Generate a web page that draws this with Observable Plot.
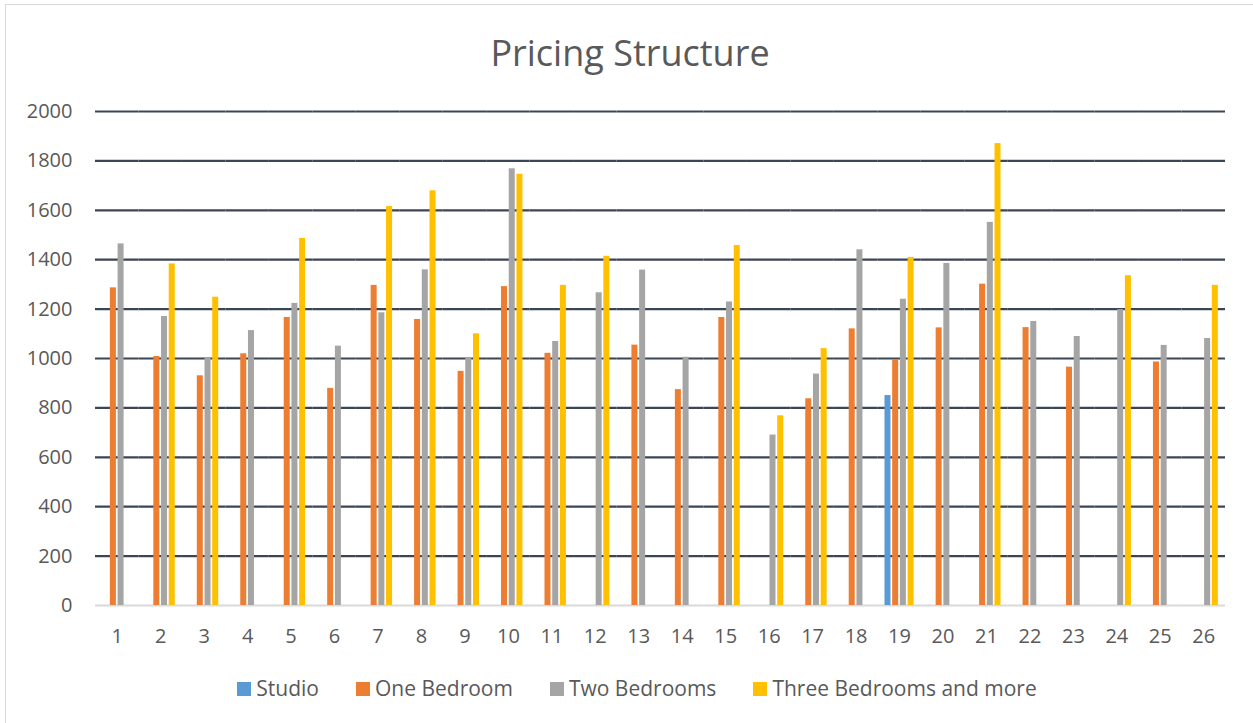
<!DOCTYPE html>
<html>
<head>
<meta charset="utf-8">
<script src="https://cdn.jsdelivr.net/npm/d3@7"></script>
<script src="https://cdn.jsdelivr.net/npm/@observablehq/plot@0.6"></script>
<style>
  html, body { margin: 0; background: #ffffff; font-family: "Open Sans", sans-serif; overflow: hidden; }
  #frame { position: absolute; left: 5px; top: 4px; width: 1260px; height: 730px; border: 1.5px solid #D9D9D9; box-sizing: border-box; }
  #title { position: absolute; left: 0; width: 1260px; top: 35px; text-align: center; font-size: 36px; line-height: 36px; color: #595959; font-weight: 400; }
  #chart { position: absolute; left: 0; top: 90px; }
  #legend { position: absolute; left: 0; width: 1274px; top: 678px; display: flex; justify-content: center; align-items: center; gap: 37px; font-size: 21px; line-height: 21px; color: #595959; }
  .item { display: flex; align-items: center; gap: 5px; }
  .sw { width: 14px; height: 14px; display: inline-block; }
</style>
</head>
<body>
<div id="frame"></div>
<div id="title">Pricing Structure</div>
<div id="chart"></div>
<div id="legend"></div>
<script>
const categories = ["1","2","3","4","5","6","7","8","9","10","11","12","13","14","15","16","17","18","19","20","21","22","23","24","25","26"];
const seriesNames = ["Studio", "One Bedroom", "Two Bedrooms", "Three Bedrooms and more"];
const seriesColors = ["#5B9BD5", "#ED7D31", "#A5A5A5", "#FFC000"];
const studio = [null,null,null,null,null,null,null,null,null,null,null,null,null,null,null,null,null,null,850,null,null,null,null,null,null,null];
const oneBedroom = [1286,1008,930,1019,1166,879,1296,1158,948,1291,1021,null,1054,874,1166,null,837,1120,996,1124,1301,1125,965,null,986,null];
const twoBedrooms = [1464,1170,1000,1113,1223,1050,1185,1359,1001,1768,1069,1266,1358,1005,1229,690,937,1440,1240,1385,1551,1150,1089,1198,1053,1081];
const threeBedrooms = [null,1383,1248,null,1486,null,1615,1679,1100,1746,1296,1414,null,null,1457,768,1040,null,1409,null,1870,null,null,1335,null,1296];
const yTicks = [0,200,400,600,800,1000,1200,1400,1600,1800,2000];

const seriesValues = [studio, oneBedroom, twoBedrooms, threeBedrooms];
const rows = [];
categories.forEach((c, i) => {
  seriesNames.forEach((s, j) => {
    const v = seriesValues[j][i];
    if (v != null) rows.push({cat: c, series: s, value: v});
  });
});

const chart = Plot.plot({
  width: 1253,
  height: 570,
  marginLeft: 95,
  marginRight: 28,
  marginTop: 21,
  marginBottom: 55,
  style: {fontFamily: "'Open Sans', sans-serif", fontSize: "20px", color: "#595959", background: "transparent", overflow: "visible"},
  facet: {data: rows, x: "cat"},
  fx: {domain: categories, padding: 0, round: false, axis: "bottom", tickSize: 0, tickPadding: 23, label: null},
  x: {domain: seriesNames, paddingInner: 0.22, paddingOuter: 0.93, round: false, axis: null},
  y: {domain: [0, 2000], ticks: 10, tickSize: 0, tickPadding: 23, label: null, tickFormat: d => String(d)},
  color: {domain: seriesNames, range: seriesColors},
  marks: [
    Plot.ruleY(yTicks.filter(d => d > 0), {stroke: "#3A4556", strokeWidth: 2.2}),
    Plot.ruleY([0], {stroke: "#D9D9D9", strokeWidth: 2}),
    Plot.barY(rows, {x: "series", y: "value", fill: "series"})
  ]
});
document.getElementById("chart").appendChild(chart);

const legend = document.getElementById("legend");
seriesNames.forEach((s, j) => {
  const item = document.createElement("div");
  item.className = "item";
  const sw = document.createElement("span");
  sw.className = "sw";
  sw.style.background = seriesColors[j];
  const t = document.createElement("span");
  t.textContent = s;
  item.appendChild(sw);
  item.appendChild(t);
  legend.appendChild(item);
});
</script>
</body>
</html>
